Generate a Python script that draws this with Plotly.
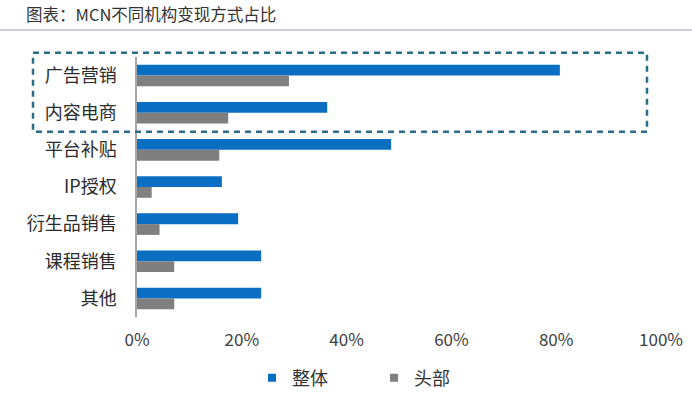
import plotly.graph_objects as go

# ---- data ----
categories = ["广告营销", "内容电商", "平台补贴", "IP授权", "衍生品销售", "课程销售", "其他"]
overall = [0.807, 0.363, 0.485, 0.162, 0.193, 0.237, 0.237]   # 整体
head = [0.290, 0.174, 0.157, 0.028, 0.043, 0.071, 0.071]      # 头部
series_names = ["整体", "头部"]
tick_vals = [0, 0.2, 0.4, 0.6, 0.8, 1.0]
tick_text = ["0%", "20%", "40%", "60%", "80%", "100%"]
title_text = "图表：MCN不同机构变现方式占比"

# ---- layout geometry (pixels) ----
W, H = 692, 397
L, R, T, B = 137, 31, 57, 80
PW, PH = W - L - R, H - T - B

def px_x(x):
    return (x - L) / PW

def px_y(y):
    return 1 - (y - T) / PH

FONT = "Noto Sans CJK SC, Microsoft YaHei, sans-serif"
BLUE = "#0a6fc3"
GRAY = "#7f7f7f"

fig = go.Figure()
fig.add_trace(go.Bar(y=categories, x=overall, orientation="h", name=series_names[0],
                     marker=dict(color=BLUE, line=dict(width=0)), showlegend=False))
fig.add_trace(go.Bar(y=categories, x=head, orientation="h", name=series_names[1],
                     marker=dict(color=GRAY, line=dict(width=0)), showlegend=False))
# legend-only entries with small square markers
fig.add_trace(go.Scatter(x=[None], y=[None], mode="markers", name=series_names[0],
                         marker=dict(symbol="square", size=8, color=BLUE)))
fig.add_trace(go.Scatter(x=[None], y=[None], mode="markers", name=series_names[1],
                         marker=dict(symbol="square", size=8, color=GRAY)))

fig.update_layout(
    width=W, height=H,
    margin=dict(l=L, r=R, t=T, b=B, pad=0, autoexpand=False),
    paper_bgcolor="white", plot_bgcolor="white",
    font=dict(family=FONT, size=17, color="#333333"),
    barmode="group", bargap=0.42, bargroupgap=0,
    title=dict(text=title_text, xref="container", yref="container",
               x=26 / W, xanchor="left", y=1 - 15 / H, yanchor="middle",
               font=dict(family=FONT, size=16.5, color="#333333")),
    xaxis=dict(range=[0, 1], tickvals=tick_vals, ticktext=tick_text,
               showgrid=False, zeroline=False, showline=False, ticks="",
               ticklabelstandoff=11, automargin=False, fixedrange=True,
               tickfont=dict(family=FONT, size=17, color="#404040")),
    yaxis=dict(autorange="reversed", showgrid=False, zeroline=False,
               showline=True, linecolor="#a6a6a6", linewidth=1.5,
               ticks="", ticklabelstandoff=15, automargin=False, fixedrange=True,
               tickfont=dict(family=FONT, size=18, color="#2b2b2b")),
    legend=dict(orientation="h", x=px_x(252), xanchor="left",
                y=px_y(378), yanchor="middle",
                entrywidth=77, entrywidthmode="pixels",
                itemwidth=30, font=dict(family=FONT, size=18, color="#333333"),
                bgcolor="rgba(0,0,0,0)"),
    shapes=[
        dict(type="line", xref="paper", yref="paper",
             x0=px_x(0), x1=px_x(W), y0=px_y(30), y1=px_y(30),
             line=dict(color="#b4c0cc", width=1.5)),
        dict(type="rect", xref="paper", yref="paper",
             x0=px_x(33), x1=px_x(647), y0=px_y(52.7), y1=px_y(131.7),
             line=dict(color="#2b6c88", width=2.5, dash="6px,5px"),
             fillcolor="rgba(0,0,0,0)"),
    ],
)

fig.write_html("out.html", config={"displayModeBar": False},
               post_script="document.body.style.margin='0';")
